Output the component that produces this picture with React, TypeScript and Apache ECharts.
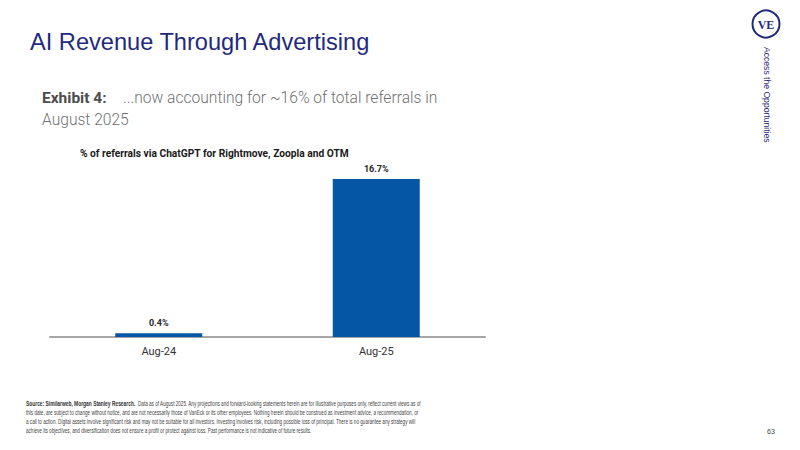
import React, { useEffect, useRef } from "react";
import * as echarts from "echarts";

const categories = ["Aug-24", "Aug-25"];
const referralShare = [0.4, 16.7];
const valueLabels = ["0.4%", "16.7%"];

const slideTitle = "AI Revenue Through Advertising";
const exhibitLabel = "Exhibit 4:";
const exhibitLine1 = "...now accounting for ~16% of total referrals in";
const exhibitLine2 = "August 2025";
const chartTitle = "% of referrals via ChatGPT for Rightmove, Zoopla and OTM";
const footerLines = [
  "Data as of August 2025. Any projections and forward-looking statements herein are for illustrative purposes only, reflect current views as of",
  "this date, are subject to change without notice, and are not necessarily those of VanEck or its other employees. Nothing herein should be construed as investment advice, a recommendation, or",
  "a call to action. Digital assets involve significant risk and may not be suitable for all investors. Investing involves risk, including possible loss of principal. There is no guarantee any strategy will",
  "achieve its objectives, and diversification does not ensure a profit or protect against loss. Past performance is not indicative of future results.",
];
const footerSource = "Source: Similarweb, Morgan Stanley Research.";
const pageNumber = "63";
const sideText = "Access the Opportunities";

export default function App() {
  const ref = useRef<HTMLDivElement>(null);
  useEffect(() => {
    if (!ref.current) return;
    const chart = echarts.init(ref.current, undefined, { renderer: "svg" });
    const navy = "#1f2a7c";
    const footFont = "'Liberation Sans', Arial, sans-serif";
    const footScale = 0.66;
    chart.setOption({
      animation: false,
      backgroundColor: "#ffffff",
      grid: { left: 50, right: 315, top: 179, bottom: 113 },
      xAxis: {
        type: "category",
        data: categories,
        axisLine: { lineStyle: { color: "#a6a6a6", width: 2 } },
        axisTick: { show: false },
        axisLabel: { color: "#333333", fontSize: 11, fontFamily: "Roboto, sans-serif", margin: 9 },
      },
      yAxis: { type: "value", min: 0, max: 16.7, show: false, splitLine: { show: false } },
      series: [
        {
          type: "bar",
          data: referralShare,
          barWidth: "40%",
          itemStyle: { color: "#0557a6" },
          label: {
            show: true,
            position: "top",
            distance: 6,
            formatter: (p: any) => valueLabels[p.dataIndex],
            color: "#262626",
            fontSize: 9,
            fontWeight: "bold",
            fontFamily: "Roboto, sans-serif",
          },
        },
      ],
      graphic: [
        {
          type: "text",
          left: 30,
          top: 30,
          style: { text: slideTitle, fill: navy, fontSize: 23.6, fontFamily: "'Liberation Sans', Arial, sans-serif" },
        },
        {
          type: "text",
          left: 42,
          top: 90,
          style: { text: exhibitLabel, fill: "#4d4d4d", fontSize: 15.5, fontWeight: "bold", fontFamily: "Roboto, sans-serif" },
        },
        {
          type: "text",
          left: 123,
          top: 90,
          style: { text: exhibitLine1, fill: "#707070", fontSize: 15.6, fontWeight: 300, fontFamily: "Roboto, sans-serif" },
        },
        {
          type: "text",
          left: 42,
          top: 112,
          style: { text: exhibitLine2, fill: "#707070", fontSize: 15.6, fontWeight: 300, fontFamily: "Roboto, sans-serif" },
        },
        {
          type: "text",
          x: 80,
          y: 153,
          scaleX: 0.93,
          style: {
            text: chartTitle,
            fill: "#1a1a1a",
            fontSize: 11,
            fontWeight: "bold",
            fontFamily: "Roboto, sans-serif",
            verticalAlign: "middle",
          },
        },
        {
          type: "circle",
          shape: { cx: 766, cy: 24, r: 13.5 },
          style: { fill: "#ffffff", stroke: navy, lineWidth: 2 },
        },
        {
          type: "text",
          x: 766,
          y: 24.5,
          style: {
            text: "VE",
            fill: navy,
            fontSize: 12,
            fontWeight: "bold",
            fontFamily: "'Liberation Serif', 'DejaVu Serif', serif",
            align: "center",
            verticalAlign: "middle",
          },
        },
        {
          type: "text",
          x: 767,
          y: 47,
          rotation: -Math.PI / 2,
          style: {
            text: sideText,
            fill: navy,
            fontSize: 8.6,
            fontFamily: "'Liberation Sans', Arial, sans-serif",
            align: "left",
            verticalAlign: "middle",
          },
        },
        {
          type: "text",
          x: 26,
          y: 404,
          scaleX: 0.7,
          style: {
            text: footerSource,
            fill: "#333333",
            fontSize: 7,
            fontWeight: "bold",
            fontFamily: footFont,
            verticalAlign: "middle",
          },
        },
        {
          type: "text",
          x: 138,
          y: 404,
          scaleX: footScale,
          style: { text: footerLines[0], fill: "#444444", fontSize: 7, fontFamily: footFont, verticalAlign: "middle" },
        },
        ...footerLines.slice(1).map((t, i) => ({
          type: "text",
          x: 26,
          y: 413 + i * 9,
          scaleX: footScale,
          style: { text: t, fill: "#444444", fontSize: 7, fontFamily: footFont, verticalAlign: "middle" },
        })),
        {
          type: "text",
          x: 771,
          y: 431,
          style: { text: pageNumber, fill: "#444444", fontSize: 7, fontFamily: footFont, align: "center", verticalAlign: "middle" },
        },
      ],
    });
    return () => chart.dispose();
  }, []);
  return <div ref={ref} style={{ position: "fixed", left: 0, top: 0, width: 800, height: 450 }} />;
}
